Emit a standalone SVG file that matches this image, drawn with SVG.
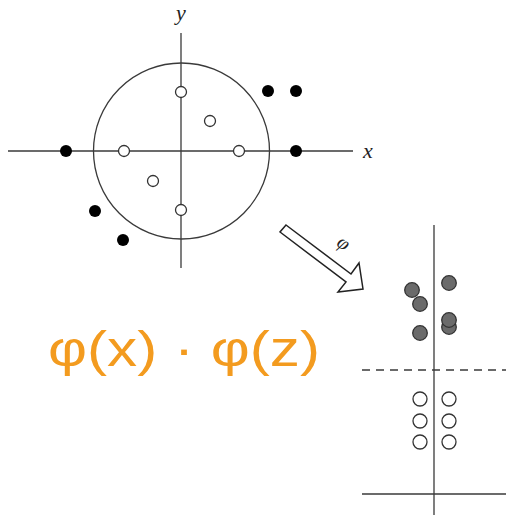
<svg xmlns="http://www.w3.org/2000/svg" width="506" height="515" viewBox="0 0 506 515">
<style>
.ax{stroke:#3a3a3a;stroke-width:1.3;fill:none}
.open{fill:#fff;stroke:#333;stroke-width:1.3}
.blk{fill:#000;stroke:none}
.gry{fill:#6b6b6b;stroke:#333;stroke-width:1.3}
.lbl{font-family:"Liberation Serif",serif;font-style:italic;fill:#222}
.hand{font-family:"Liberation Sans",sans-serif;fill:#F39B1F}
</style>
<rect width="506" height="515" fill="#fff"/>
<g id="left-plot">
  <line class="ax" x1="8" y1="151" x2="353" y2="151"/>
  <line class="ax" x1="181" y1="33" x2="181" y2="268"/>
  <circle class="ax" cx="181.5" cy="151" r="88"/>
  <text class="lbl" x="368" y="158" font-size="22" text-anchor="middle">x</text>
  <text class="lbl" x="181" y="20" font-size="22" text-anchor="middle">y</text>
</g>
<g id="inner-points">
  <circle class="open" cx="181" cy="92" r="5.5"/>
  <circle class="open" cx="210" cy="121" r="5.5"/>
  <circle class="open" cx="124" cy="151" r="5.5"/>
  <circle class="open" cx="239" cy="151" r="5.5"/>
  <circle class="open" cx="153" cy="181" r="5.5"/>
  <circle class="open" cx="181" cy="210" r="5.5"/>
</g>
<g id="outer-points">
  <circle class="blk" cx="268" cy="91" r="6"/>
  <circle class="blk" cx="296" cy="91" r="6"/>
  <circle class="blk" cx="66" cy="151" r="6"/>
  <circle class="blk" cx="296" cy="151" r="6"/>
  <circle class="blk" cx="95" cy="211" r="6"/>
  <circle class="blk" cx="123" cy="240" r="6"/>
</g>
<g id="connectors">
  <polygon points="286,225 351,274 359,263 363,289 338,292 346,282 280,232" fill="#fff" stroke="#222" stroke-width="1.5" stroke-linejoin="miter"/>
  <text class="lbl" x="0" y="0" font-size="20" text-anchor="middle" transform="translate(340,248) rotate(37)">φ</text>
</g>
<g id="right-plot">
  <line class="ax" x1="434" y1="225" x2="434" y2="515"/>
  <line class="ax" x1="362" y1="494" x2="506" y2="494"/>
  <line class="ax" x1="362" y1="370" x2="506" y2="370" stroke-dasharray="8,6"/>
</g>
<g id="mapped-outer">
  <circle class="gry" cx="412" cy="290" r="7.3"/>
  <circle class="gry" cx="420" cy="304" r="7.3"/>
  <circle class="gry" cx="420" cy="333" r="7.3"/>
  <circle class="gry" cx="449" cy="283" r="7.3"/>
  <circle class="gry" cx="449" cy="327" r="7.3"/>
  <circle class="gry" cx="449" cy="320" r="7.3"/>
</g>
<g id="mapped-inner">
  <circle class="open" cx="420" cy="399" r="7"/>
  <circle class="open" cx="449" cy="399" r="7"/>
  <circle class="open" cx="420" cy="421" r="7"/>
  <circle class="open" cx="449" cy="421" r="7"/>
  <circle class="open" cx="420" cy="442" r="7"/>
  <circle class="open" cx="449" cy="442" r="7"/>
</g>
<g id="annotation">
  <text class="hand" x="48" y="366" font-size="50" textLength="272" lengthAdjust="spacingAndGlyphs">φ(x) · φ(z)</text>
</g>
</svg>
